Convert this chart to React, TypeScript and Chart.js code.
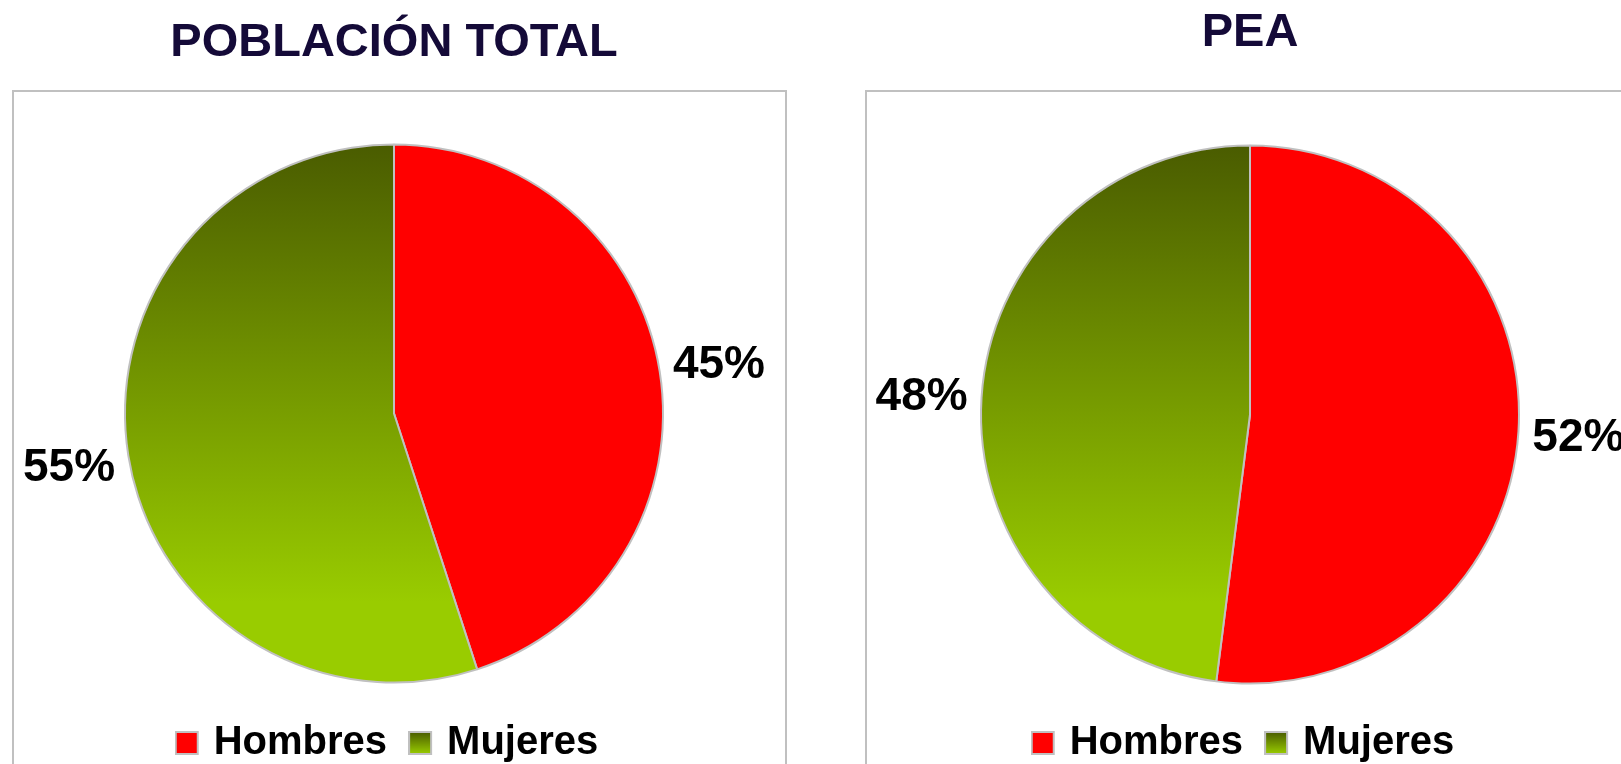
import React, { useEffect, useRef } from 'react';
import { Chart, registerables } from 'chart.js';

Chart.register(...registerables);

// ---- Data ----
const categories = ['Hombres', 'Mujeres'];
const poblacionTotalValues = [45, 55];
const peaValues = [52, 48];
const chartTitles = ['POBLACIÓN TOTAL', 'PEA'];

// ---- Styles ----
const FONT = "'Liberation Sans', Arial, Helvetica, sans-serif";
const RED = '#ff0000';
const GREEN_TOP = '#4a5c00';
const GREEN_BOTTOM = '#99cc00';
const BORDER = '#c0c0c0';
const TITLE_COLOR = '#140a38';

function makeSwatch(kind: 'red' | 'green'): HTMLCanvasElement {
  const c = document.createElement('canvas');
  c.width = 34;
  c.height = 24;
  const ctx = c.getContext('2d')!;
  if (kind === 'red') {
    ctx.fillStyle = RED;
  } else {
    const g = ctx.createLinearGradient(0, 1, 0, 23);
    g.addColorStop(0, GREEN_TOP);
    g.addColorStop(1, GREEN_BOTTOM);
    ctx.fillStyle = g;
  }
  ctx.fillRect(1, 1, 22, 22);
  ctx.strokeStyle = BORDER;
  ctx.lineWidth = 2;
  ctx.strokeRect(1, 1, 22, 22);
  return c;
}

function greenGradient(chart: any) {
  const area = chart.chartArea;
  if (!area) return GREEN_BOTTOM;
  const cy = (area.top + area.bottom) / 2;
  const r = (Math.min(area.right - area.left, area.bottom - area.top) - 2) / 2;
  const g = chart.ctx.createLinearGradient(0, cy - r, 0, cy + r);
  g.addColorStop(0, GREEN_TOP);
  g.addColorStop(0.85, GREEN_BOTTOM);
  g.addColorStop(1, GREEN_BOTTOM);
  return g;
}

const percentLabels = {
  id: 'percentLabels',
  afterDatasetsDraw(chart: any) {
    const meta = chart.getDatasetMeta(0);
    const data = chart.data.datasets[0].data as number[];
    const total = data.reduce((a, b) => a + b, 0);
    const ctx = chart.ctx;
    ctx.save();
    ctx.font = `bold 46px ${FONT}`;
    ctx.fillStyle = '#000000';
    ctx.textAlign = 'center';
    ctx.textBaseline = 'middle';
    meta.data.forEach((arc: any, i: number) => {
      const p = arc.getProps(['x', 'y', 'startAngle', 'endAngle', 'outerRadius'], true);
      const mid = (p.startAngle + p.endAngle) / 2;
      const d = p.outerRadius + 60;
      ctx.fillText(
        `${Math.round((data[i] / total) * 100)}%`,
        p.x + Math.cos(mid) * d,
        p.y + Math.sin(mid) * d + 3
      );
    });
    ctx.restore();
  },
};

const framePlugin = {
  id: 'frame',
  beforeDraw(chart: any, _args: any, opts: any) {
    const ctx = chart.ctx;
    ctx.save();
    ctx.strokeStyle = BORDER;
    ctx.lineWidth = 2;
    ctx.strokeRect(opts.x, opts.y, opts.w, opts.h);
    ctx.restore();
  },
};

type PieProps = {
  title: string;
  values: number[];
  width: number;
  padLeft: number;
  padRight: number;
  titleTop: number;
  titleBottom: number;
  frame: { x: number; y: number; w: number; h: number };
};

function PieChart(props: PieProps) {
  const ref = useRef<HTMLCanvasElement | null>(null);
  useEffect(() => {
    if (!ref.current) return;
    const swatches = [makeSwatch('red'), makeSwatch('green')];
    const chart = new Chart(ref.current, {
      type: 'pie',
      data: {
        labels: categories,
        datasets: [
          {
            data: props.values,
            backgroundColor: (ctx: any) => (ctx.dataIndex === 0 ? RED : greenGradient(ctx.chart)),
            borderColor: BORDER,
            borderWidth: 2,
          },
        ],
      },
      options: {
        responsive: false,
        animation: false,
        events: [],
        layout: { padding: { left: props.padLeft, right: props.padRight, top: 0, bottom: 27 } },
        plugins: {
          title: {
            display: true,
            text: props.title,
            color: TITLE_COLOR,
            font: { family: FONT, size: 47, weight: 'bold', lineHeight: 1.2 },
            padding: { top: props.titleTop, bottom: props.titleBottom },
          },
          legend: {
            display: true,
            position: 'bottom',
            labels: {
              usePointStyle: true,
              pointStyleWidth: 4,
              padding: 36,
              color: '#000000',
              font: { family: FONT, size: 40, weight: 'bold' },
              generateLabels: () =>
                categories.map((c, i) => ({
                  text: c,
                  fillStyle: i === 0 ? RED : GREEN_BOTTOM,
                  strokeStyle: BORDER,
                  lineWidth: 2,
                  pointStyle: swatches[i],
                  hidden: false,
                  index: i,
                  datasetIndex: 0,
                  fontColor: '#000000',
                })),
            },
          },
          tooltip: { enabled: false },
          frame: props.frame,
        } as any,
      },
      plugins: [percentLabels, framePlugin],
    });
    return () => chart.destroy();
  }, []);
  return <canvas ref={ref} width={props.width} height={800} style={{ display: 'block' }} />;
}

export default function App() {
  return (
    <div
      style={{
        position: 'absolute',
        left: 0,
        top: 0,
        width: 1621,
        height: 764,
        overflow: 'hidden',
        background: '#ffffff',
      }}
    >
      <div style={{ position: 'absolute', left: 0, top: 0 }}>
        <PieChart
          title={chartTitles[0]}
          values={poblacionTotalValues}
          width={810}
          padLeft={124}
          padRight={146}
          titleTop={15}
          titleBottom={68.6}
          frame={{ x: 13, y: 91, w: 773, h: 800 }}
        />
      </div>
      <div style={{ position: 'absolute', left: 810, top: 0 }}>
        <PieChart
          title={chartTitles[1]}
          values={peaValues}
          width={811}
          padLeft={170}
          padRight={101}
          titleTop={4.5}
          titleBottom={81.1}
          frame={{ x: 56, y: 91, w: 900, h: 800 }}
        />
      </div>
    </div>
  );
}
